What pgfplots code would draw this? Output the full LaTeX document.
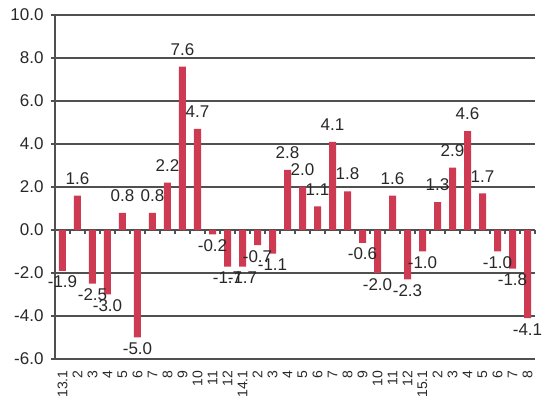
\documentclass[border=0pt]{standalone}
\usepackage{fontspec}
\setmainfont{Liberation Sans}
\usepackage{pgfplots}
\pgfplotsset{compat=1.18}
\definecolor{barred}{RGB}{205,58,82}
\definecolor{gridc}{RGB}{80,80,80}
\definecolor{txt}{RGB}{40,40,40}
\begin{document}
\begin{tikzpicture}[x=1pt,y=1pt]
\path[use as bounding box] (-55pt,-39pt) rectangle (492pt,359pt);
\begin{axis}[
  scale only axis, width=480pt, height=344pt,
  xmin=-0.5, xmax=31.5, ymin=-6, ymax=10,
  separate axis lines,
  axis x line*=bottom, axis y line*=left,
  x axis line style={draw=none},
  y axis line style={gridc, line width=1.1pt, -},
  ytick={-6,-4,...,10},
  ymajorgrids, grid style={gridc, line width=1.1pt},
  ytick style={gridc, line width=1.1pt},
  xtick style={draw=none},
  major tick length=4pt, tick align=outside,
  yticklabel style={font=\fontsize{17}{18}\selectfont\color{txt}, xshift=-4pt},
  xtick={0,...,31},
  xticklabels={13.1,2,3,4,5,6,7,8,9,10,11,12,14.1,2,3,4,5,6,7,8,9,10,11,12,15.1,2,3,4,5,6,7,8},
  xticklabel style={rotate=90, anchor=east, font=\fontsize{14}{15}\selectfont\color{txt}, yshift=0pt, xshift=-4pt},
  /pgf/number format/.cd, fixed, fixed zerofill, precision=1, assume math mode=true,
  /pgfplots/.cd,
  ybar, bar width=7pt,
  nodes near coords,
  nodes near coords align=vertical,
  every node near coord/.append style={font=\fontsize{17}{18}\selectfont\color{txt}, inner ysep=8pt, yshift=3pt},
  clip=false,
]
\addplot[fill=barred, draw=none] coordinates {
(0,-1.9) (1,1.6) (2,-2.5) (3,-3.0) (4,0.8) (5,-5.0) (6,0.8) (7,2.2) (8,7.6) (9,4.7) (10,-0.2) (11,-1.7)
(12,-1.7) (13,-0.7) (14,-1.1) (15,2.8) (16,2.0) (17,1.1) (18,4.1) (19,1.8) (20,-0.6) (21,-2.0) (22,1.6) (23,-2.3)
(24,-1.0) (25,1.3) (26,2.9) (27,4.6) (28,1.7) (29,-1.0) (30,-1.8) (31,-4.1)
};
\pgfplotsinvokeforeach{-0.5,0.5,...,31.5}{\draw[gridc, line width=1.1pt] (axis cs:#1,0) -- ([yshift=-4pt]axis cs:#1,0);}
\end{axis}
\end{tikzpicture}
\end{document}
